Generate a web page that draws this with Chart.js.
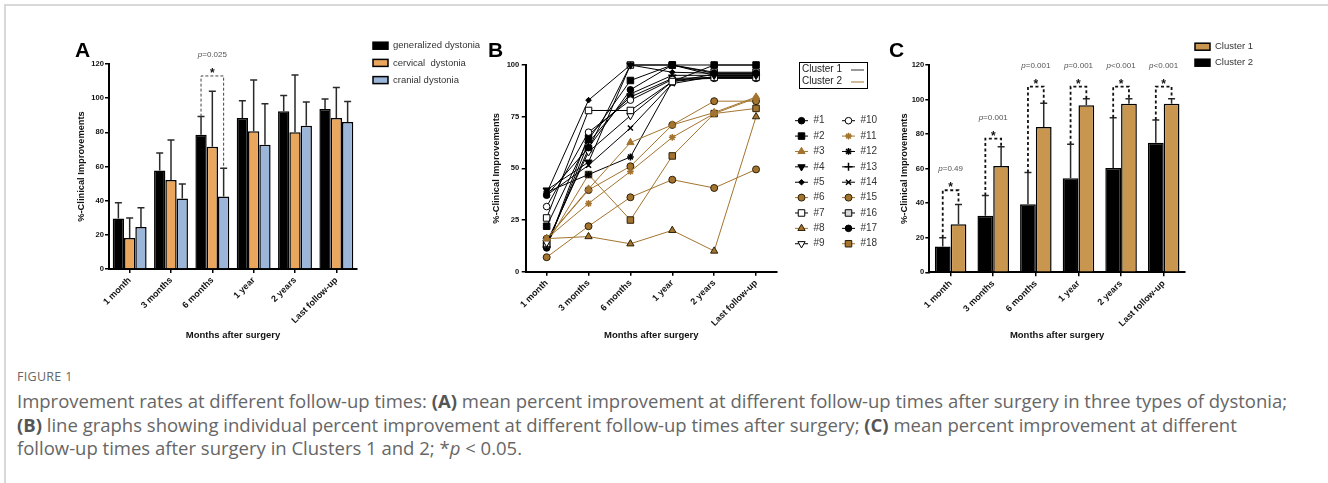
<!DOCTYPE html>
<html>
<head>
<meta charset="utf-8">
<script src="https://cdn.jsdelivr.net/npm/chart.js@4.4.1/dist/chart.umd.min.js"></script>
<style>
  body { margin: 0; width: 1328px; height: 483px; background: #fff; position: relative; overflow: hidden; }
  .frame { position: absolute; left: 4px; top: 4px; right: 0; bottom: 0; border-left: 2px solid #d8d8d8; border-top: 2px solid #d8d8d8; }
  canvas { position: absolute; top: 0; }
  #figno { position: absolute; left: 17px; top: 368px; font: 12.5px "Open Sans", sans-serif; color: #666; letter-spacing: 0.3px; }
  #cap { position: absolute; left: 17px; top: 389px; font: 18.5px/23.5px "Open Sans", sans-serif; color: #666; white-space: nowrap; }
  #cap b { color: #555; font-weight: 700; }
</style>
</head>
<body>
<div class="frame"></div>
<canvas id="chartA" width="480" height="350" style="left:0"></canvas>
<canvas id="chartB" width="420" height="350" style="left:480px"></canvas>
<canvas id="chartC" width="448" height="350" style="left:880px"></canvas>
<div id="figno">FIGURE 1</div>
<div id="cap">Improvement rates at different follow-up times: <b>(A)</b> mean percent improvement at different follow-up times after surgery in three types of dystonia;<br><b>(B)</b> line graphs showing individual percent improvement at different follow-up times after surgery; <b>(C)</b> mean percent improvement at different<br>follow-up times after surgery in Clusters 1 and 2; *<i>p</i> &lt; 0.05.</div>
<script>
const FONT = '"Liberation Sans", Arial, sans-serif';

const times = ['1 month', '3 months', '6 months', '1 year', '2 years', 'Last follow-up'];

// panel A: mean and mean+SD per dystonia type
const genMean = [29.5, 57.6, 78.6, 88.4, 92.3, 93.7];
const genErr  = [38.8, 67.9, 89.2, 98.5, 101.5, 99.5];
const cerMean = [18.1, 52.1, 71.6, 80.6, 80.0, 88.4];
const cerErr  = [29.9, 75.5, 104, 110.6, 113.6, 106.3];
const craMean = [24.6, 41.2, 42.5, 72.8, 83.9, 86.0];
const craErr  = [35.9, 49.8, 59.0, 96.8, 97.8, 98.1];
const aSigIndex = 2, aSigLevel = 113, aPText = '=0.025';

// panel B: individual patients
const p1  = [37, 60, 88, 100, 96, 96];
const p2  = [22, 64, 92.5, 100, 100, 100];
const p3  = [16, 40, 62.5, 71, 77, 84.5];
const p4  = [39.5, 53, 100, 100, 95, 95];
const p5  = [38, 83, 100, 96.5, 96, 96];
const p6  = [7, 22, 36, 44.5, 40.5, 49.5];
const p7  = [26, 78, 78, 92, 94, 94];
const p8  = [16, 17, 13.5, 20, 10, 75];
const p9  = [14, 58, 75.5, 92, 95.5, 95.5];
const p10 = [31.5, 67.5, 83, 93, 93.5, 93.5];
const p11 = [16, 33, 48.5, 65, 76.5, 84];
const p12 = [38.5, 47, 55.5, 92, 100, 100];
const p13 = [12, 62.5, 86, 95, 95, 95];
const p14 = [37, 51.5, 69.5, 91, 94.5, 94.5];
const p15 = [16, 39.5, 51, 71, 82.5, 82.5];
const p16 = [13, 59.5, 100, 100, 96.5, 96.5];
const p17 = [11.5, 66, 84.5, 93.5, 94, 94];
const p18 = [13.5, 47, 25, 56, 76.5, 79];
const patients = [p1, p2, p3, p4, p5, p6, p7, p8, p9, p10, p11, p12, p13, p14, p15, p16, p17, p18];
const cluster  = [1, 1, 2, 1, 1, 2, 1, 2, 1, 1, 2, 1, 1, 1, 2, 1, 1, 2];

// panel C: clusters
const c2Mean = [15.0, 32.8, 39.4, 54.4, 60.4, 75.0];
const c2Err  = [20.0, 44.4, 57.7, 74.1, 89.5, 88.2];
const c1Mean = [27.8, 61.5, 84.1, 96.7, 97.6, 97.6];
const c1Err  = [39.2, 72.7, 97.8, 100.5, 100.5, 100.5];
const cPText = ['=0.49', '=0.001', '=0.001', '=0.001', '<0.001', '<0.001'];
const cLevel = [47.5, 77.4, 107.5, 107.5, 107.5, 107.5];

const BROWN = '#A3742F';
const EDGE = '#2e2008';
const markers = [
  { pointStyle: 'circle', r: 3.3 },
  { pointStyle: 'rect', r: 4.6 },
  { pointStyle: 'triangle', r: 4.2 },
  { pointStyle: 'triangle', r: 4.2, rot: 180 },
  { pointStyle: 'rectRot', r: 2.8 },
  { pointStyle: 'circle', r: 3.5, edge: EDGE },
  { pointStyle: 'rect', r: 4.6, fill: '#fff' },
  { pointStyle: 'triangle', r: 4.2, edge: EDGE },
  { pointStyle: 'triangle', r: 4.2, rot: 180, fill: '#fff' },
  { pointStyle: 'circle', r: 3.3, fill: '#fff' },
  { pointStyle: 'star', r: 3.4 },
  { pointStyle: 'star', r: 3.4 },
  { pointStyle: 'cross', r: 4 },
  { pointStyle: 'crossRot', r: 3.6 },
  { pointStyle: 'circle', r: 3.5, edge: EDGE },
  { pointStyle: 'rect', r: 4.6, fill: '#d8d8d8' },
  { pointStyle: 'circle', r: 3.3 },
  { pointStyle: 'rect', r: 4.6, edge: EDGE }
];

function yAxis(max, step, w, pad) {
  return {
    min: 0, max: max,
    ticks: { stepSize: step, color: '#111', padding: pad, font: { family: FONT, size: 7.6, weight: 'bold' } },
    grid: { drawOnChartArea: false, drawTicks: true, tickLength: 4, color: '#000', lineWidth: 1.5 },
    border: { display: true, color: '#000', width: 2 },
    title: { display: true, text: '%-Clinical Improvements', color: '#111', padding: 0,
             font: { family: FONT, size: 9.3, weight: 'bold' } },
    afterFit: s => { s.width = w; }
  };
}

function xAxis(h) {
  return {
    offset: true,
    ticks: { autoSkip: false, minRotation: 45, maxRotation: 45, color: '#111', padding: 2,
             font: { family: FONT, size: 9, weight: 'bold' } },
    grid: { offset: false, drawOnChartArea: false, drawTicks: true, tickLength: 4, color: '#000', lineWidth: 1.5 },
    border: { display: true, color: '#000', width: 2 },
    title: { display: true, text: 'Months after surgery', color: '#111', padding: { top: 0, bottom: 4 },
             font: { family: FONT, size: 9.5, weight: 'bold' } },
    afterFit: s => { s.height = h; }
  };
}

function letter(ctx, t, x) {
  ctx.save();
  ctx.font = 'bold 21px ' + FONT;
  ctx.fillStyle = '#000';
  ctx.textAlign = 'left';
  ctx.textBaseline = 'alphabetic';
  ctx.fillText(t, x, 57);
  ctx.restore();
}

function pLabel(ctx, txt, cx, y) {
  ctx.save();
  ctx.fillStyle = '#555';
  ctx.textBaseline = 'alphabetic';
  ctx.textAlign = 'left';
  ctx.font = 'italic 8px ' + FONT;
  const w1 = ctx.measureText('p').width;
  ctx.font = '8px ' + FONT;
  const w2 = ctx.measureText(txt).width;
  const x0 = cx - (w1 + w2) / 2;
  ctx.font = 'italic 8px ' + FONT;
  ctx.fillText('p', x0, y);
  ctx.font = '8px ' + FONT;
  ctx.fillText(txt, x0 + w1, y);
  ctx.restore();
}

function star(ctx, cx, y) {
  ctx.save();
  ctx.font = 'bold 12px ' + FONT;
  ctx.fillStyle = '#111';
  ctx.textAlign = 'center';
  ctx.textBaseline = 'alphabetic';
  ctx.fillText('*', cx, y);
  ctx.restore();
}

function bracket(ctx, x1, y1, x2, y2, top) {
  ctx.beginPath();
  ctx.moveTo(x1, y1);
  ctx.lineTo(x1, top);
  ctx.lineTo(x2, top);
  ctx.lineTo(x2, y2);
  ctx.stroke();
}

// upper error bars from dataset.err
const errBars = {
  id: 'errBars',
  afterDatasetsDraw(chart) {
    const ctx = chart.ctx, y = chart.scales.y;
    chart.data.datasets.forEach((ds, d) => {
      if (!ds.err) return;
      chart.getDatasetMeta(d).data.forEach((bar, i) => {
        const top = y.getPixelForValue(ds.err[i]);
        ctx.save();
        ctx.strokeStyle = '#2a2a2a';
        ctx.lineWidth = 1.5;
        ctx.beginPath();
        ctx.moveTo(bar.x, bar.y);
        ctx.lineTo(bar.x, top);
        ctx.moveTo(bar.x - 3.5, top);
        ctx.lineTo(bar.x + 3.5, top);
        ctx.stroke();
        ctx.restore();
      });
    });
  }
};

// ---------- A ----------
const annotA = {
  id: 'annotA',
  afterDraw(chart) {
    const ctx = chart.ctx, y = chart.scales.y;
    letter(ctx, 'A', 75);
    // legend
    chart.data.datasets.forEach((ds, i) => {
      const ry = 45.7 + i * 17.2;
      ctx.save();
      ctx.fillStyle = ds.backgroundColor;
      ctx.strokeStyle = '#000';
      ctx.lineWidth = 1.5;
      ctx.fillRect(373, ry - 3.5, 15, 7);
      ctx.strokeRect(373, ry - 3.5, 15, 7);
      ctx.fillStyle = '#333';
      ctx.font = '9.5px ' + FONT;
      ctx.textBaseline = 'middle';
      ctx.fillText(ds.label, 393, ry);
      ctx.restore();
    });
    // significance bracket
    const b0 = chart.getDatasetMeta(0).data[aSigIndex];
    const b2 = chart.getDatasetMeta(2).data[aSigIndex];
    const ds = chart.data.datasets;
    const top = y.getPixelForValue(aSigLevel);
    ctx.save();
    ctx.strokeStyle = '#444';
    ctx.lineWidth = 1;
    ctx.setLineDash([3, 2]);
    bracket(ctx, b0.x, y.getPixelForValue(ds[0].err[aSigIndex]), b2.x, y.getPixelForValue(ds[2].err[aSigIndex]), top);
    ctx.restore();
    const cx = (b0.x + b2.x) / 2;
    star(ctx, cx, top + 1);
    pLabel(ctx, aPText, cx, top - 19);
  }
};

new Chart(document.getElementById('chartA'), {
  type: 'bar',
  data: {
    labels: times,
    datasets: [
      { label: 'generalized dystonia', data: genMean, err: genErr, backgroundColor: '#000000' },
      { label: 'cervical  dystonia', data: cerMean, err: cerErr, backgroundColor: '#EBA65D' },
      { label: 'cranial dystonia', data: craMean, err: craErr, backgroundColor: '#9BB6D8' }
    ]
  },
  options: {
    responsive: false,
    animation: false,
    layout: { padding: { left: 76, right: 123, top: 64, bottom: 5 } },
    datasets: { bar: { borderColor: '#000', borderWidth: 1.5, categoryPercentage: 0.82, barPercentage: 1 } },
    plugins: { legend: { display: false }, tooltip: { enabled: false } },
    scales: { x: xAxis(76), y: yAxis(120, 20, 33, 1) }
  },
  plugins: [errBars, annotA]
});

// ---------- B ----------
const legendB = {
  id: 'legendB',
  afterDraw(chart) {
    const ctx = chart.ctx;
    letter(ctx, 'B', 8);
    // cluster box
    ctx.save();
    ctx.strokeStyle = '#000';
    ctx.lineWidth = 1;
    ctx.strokeRect(319.5, 62.5, 68, 26);
    ctx.fillStyle = '#222';
    ctx.font = '10px ' + FONT;
    ctx.textBaseline = 'middle';
    ctx.fillText('Cluster 1', 322, 69.5);
    ctx.fillText('Cluster 2', 322, 81.5);
    ctx.lineWidth = 1;
    ctx.strokeStyle = '#333';
    ctx.beginPath(); ctx.moveTo(371, 70); ctx.lineTo(384, 70); ctx.stroke();
    ctx.strokeStyle = BROWN;
    ctx.beginPath(); ctx.moveTo(371, 82); ctx.lineTo(384, 82); ctx.stroke();
    ctx.restore();
    // patient markers
    chart.data.datasets.forEach((ds, i) => {
      const col = Math.floor(i / 9), row = i % 9;
      const ry = 120.7 + row * 15.38;
      const x0 = col === 0 ? 315 : 362;
      ctx.save();
      ctx.strokeStyle = ds.borderColor;
      ctx.lineWidth = 1;
      ctx.beginPath(); ctx.moveTo(x0, ry); ctx.lineTo(x0 + 13, ry); ctx.stroke();
      ctx.fillStyle = ds.pointBackgroundColor;
      ctx.strokeStyle = ds.pointBorderColor;
      ctx.lineWidth = ds.pointBorderWidth;
      Chart.helpers.drawPoint(ctx, { pointStyle: ds.pointStyle, radius: ds.pointRadius, rotation: ds.pointRotation || 0, borderWidth: 1 }, x0 + 6.5, ry);
      ctx.fillStyle = '#333';
      ctx.font = '10px ' + FONT;
      ctx.textBaseline = 'middle';
      ctx.fillText(ds.label, x0 + 18.5, ry);
      ctx.restore();
    });
  }
};

const bSets = patients.map((vals, i) => {
  const m = markers[i];
  const col = cluster[i] === 1 ? '#000000' : BROWN;
  return {
    label: '#' + (i + 1),
    data: vals,
    borderColor: col,
    backgroundColor: col,
    borderWidth: 1,
    tension: 0,
    clip: false,
    pointStyle: m.pointStyle,
    pointRadius: m.r,
    pointRotation: m.rot || 0,
    pointBackgroundColor: m.fill || col,
    pointBorderColor: m.edge || col,
    pointBorderWidth: (m.pointStyle === 'star' || m.pointStyle === 'cross' || m.pointStyle === 'crossRot') ? 1.5 : 1
  };
});

new Chart(document.getElementById('chartB'), {
  type: 'line',
  data: { labels: times, datasets: bSets },
  options: {
    responsive: false,
    animation: false,
    layout: { padding: { left: 11.3, right: 123, top: 65, bottom: 5 } },
    plugins: { legend: { display: false }, tooltip: { enabled: false } },
    scales: { x: xAxis(73.3), y: yAxis(100, 25, 34.4, 2.4) }
  },
  plugins: [legendB]
});

// ---------- C ----------
const annotC = {
  id: 'annotC',
  afterDraw(chart) {
    const ctx = chart.ctx, y = chart.scales.y;
    letter(ctx, 'C', 9);
    const ds = chart.data.datasets;
    // legend, Cluster 1 listed first
    [1, 0].forEach((d, k) => {
      const ry = 46.7 + k * 16;
      ctx.save();
      ctx.fillStyle = ds[d].backgroundColor;
      ctx.strokeStyle = '#000';
      ctx.lineWidth = 1.5;
      ctx.fillRect(315, ry - 3.5, 15, 7);
      ctx.strokeRect(315, ry - 3.5, 15, 7);
      ctx.fillStyle = '#333';
      ctx.font = '9.5px ' + FONT;
      ctx.textBaseline = 'middle';
      ctx.fillText(ds[d].label, 335, ry);
      ctx.restore();
    });
    const m0 = chart.getDatasetMeta(0).data, m1 = chart.getDatasetMeta(1).data;
    times.forEach((t, i) => {
      const top = y.getPixelForValue(cLevel[i]);
      ctx.save();
      ctx.strokeStyle = '#111';
      ctx.lineWidth = 1.8;
      ctx.setLineDash([3, 2.5]);
      bracket(ctx, m0[i].x, y.getPixelForValue(ds[0].err[i]), m1[i].x, y.getPixelForValue(ds[1].err[i]), top);
      ctx.restore();
      const cx = (m0[i].x + m1[i].x) / 2;
      star(ctx, cx, top + 1);
      pLabel(ctx, cPText[i], cx, top - 19);
    });
  }
};

new Chart(document.getElementById('chartC'), {
  type: 'bar',
  data: {
    labels: times,
    datasets: [
      { label: 'Cluster 2', data: c2Mean, err: c2Err, backgroundColor: '#000000' },
      { label: 'Cluster 1', data: c1Mean, err: c1Err, backgroundColor: '#C8964F' }
    ]
  },
  options: {
    responsive: false,
    animation: false,
    layout: { padding: { left: 18.6, right: 143, top: 65, bottom: 5 } },
    datasets: { bar: { borderColor: '#000', borderWidth: 1.5, categoryPercentage: 0.74, barPercentage: 1 } },
    plugins: { legend: { display: false }, tooltip: { enabled: false } },
    scales: { x: xAxis(72.7), y: yAxis(120, 20, 30.7, 1) }
  },
  plugins: [errBars, annotC]
});
</script>
</body>
</html>
